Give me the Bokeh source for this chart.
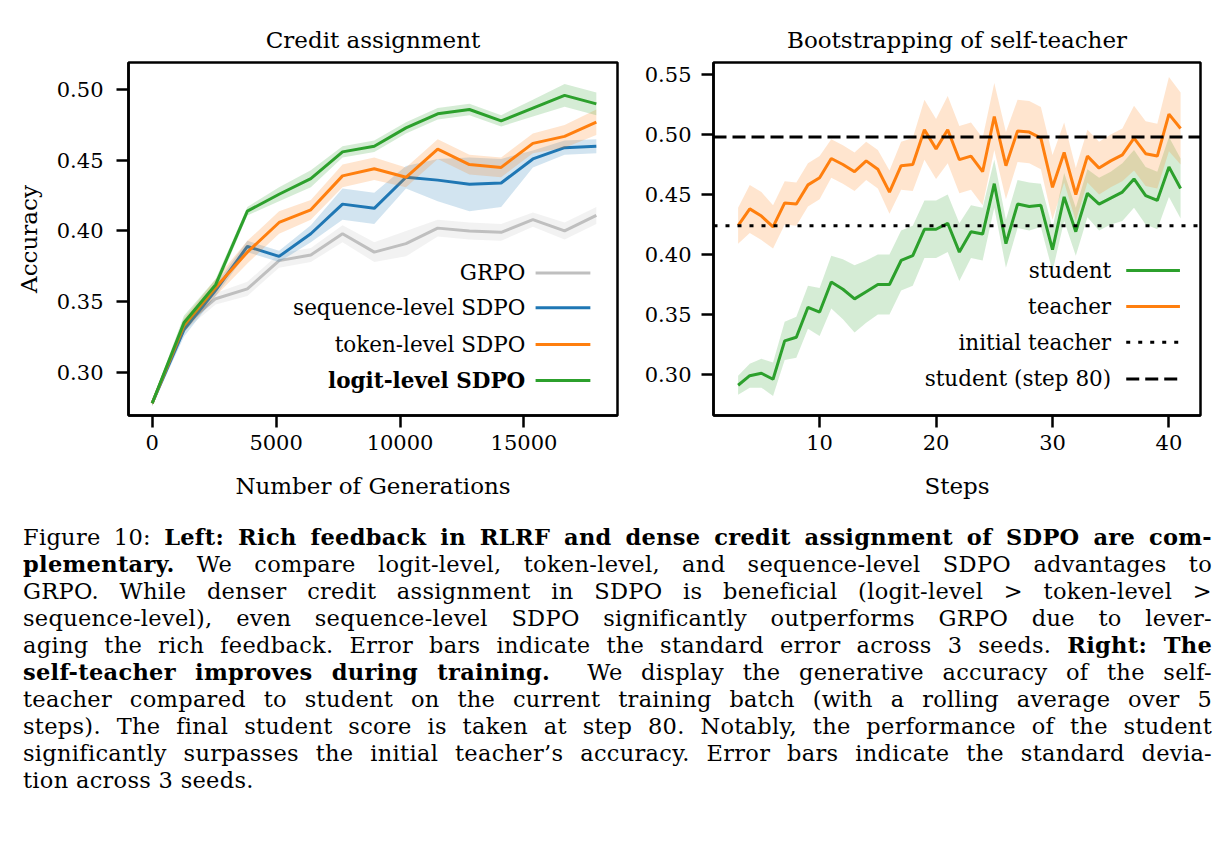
from bokeh.plotting import figure
from bokeh.layouts import column, row
from bokeh.models import Range1d, FixedTicker, NumeralTickFormatter, Span, Div
from bokeh.core.properties import value
from bokeh.embed import file_html
from bokeh.resources import INLINE

FONT = "DejaVu Serif"

# ---- Left panel: credit assignment (mean and standard error over 3 seeds)
generations = [0, 1280, 2560, 3840, 5120, 6400, 7680, 8960, 10240, 11520, 12800, 14080, 15360, 16640, 17920]
grpo_mean = [0.278, 0.333, 0.352, 0.359, 0.379, 0.383, 0.398, 0.385, 0.391, 0.402, 0.400, 0.399, 0.408, 0.400, 0.411]
grpo_err = [0.002, 0.004, 0.004, 0.005, 0.005, 0.005, 0.006, 0.007, 0.009, 0.006, 0.006, 0.006, 0.005, 0.006, 0.006]
seq_mean = [0.278, 0.330, 0.358, 0.389, 0.382, 0.398, 0.419, 0.416, 0.438, 0.436, 0.433, 0.434, 0.451, 0.459, 0.460]
seq_err = [0.002, 0.005, 0.004, 0.004, 0.004, 0.006, 0.011, 0.011, 0.008, 0.015, 0.019, 0.017, 0.006, 0.005, 0.005]
token_mean = [0.278, 0.333, 0.360, 0.385, 0.406, 0.415, 0.439, 0.444, 0.438, 0.458, 0.447, 0.445, 0.462, 0.467, 0.477]
token_err = [0.002, 0.005, 0.006, 0.008, 0.008, 0.007, 0.008, 0.008, 0.007, 0.007, 0.007, 0.007, 0.007, 0.008, 0.009]
logit_mean = [0.278, 0.335, 0.362, 0.414, 0.426, 0.437, 0.456, 0.460, 0.473, 0.483, 0.486, 0.478, 0.487, 0.496, 0.490]
logit_err = [0.002, 0.005, 0.004, 0.003, 0.005, 0.006, 0.004, 0.004, 0.004, 0.004, 0.004, 0.004, 0.006, 0.008, 0.008]

left_series = ["GRPO", "sequence-level SDPO", "token-level SDPO", "logit-level SDPO"]
left_x_ticks = [0, 5000, 10000, 15000]
left_y_ticks = [0.30, 0.35, 0.40, 0.45, 0.50]

# ---- Right panel: bootstrapping of the self-teacher (mean and std over 3 seeds)
steps = [3, 4, 5, 6, 7, 8, 9, 10, 11, 12, 13, 14, 15, 16, 17, 18, 19, 20, 21, 22,
         23, 24, 25, 26, 27, 28, 29, 30, 31, 32, 33, 34, 35, 36, 37, 38, 39, 40, 41]
student_mean = [0.291, 0.299, 0.301, 0.296, 0.328, 0.331, 0.356, 0.352, 0.377, 0.371,
                0.363, 0.369, 0.375, 0.375, 0.395, 0.399, 0.421, 0.421, 0.426, 0.402,
                0.419, 0.417, 0.459, 0.409, 0.442, 0.440, 0.441, 0.404, 0.448, 0.419,
                0.451, 0.442, 0.447, 0.452, 0.463, 0.449, 0.445, 0.473, 0.455]
student_sd = [0.008, 0.010, 0.012, 0.014, 0.016, 0.017, 0.018, 0.020, 0.022, 0.025,
              0.028, 0.026, 0.025, 0.025, 0.025, 0.025, 0.024, 0.024, 0.024, 0.024,
              0.022, 0.022, 0.020, 0.020, 0.020, 0.020, 0.018, 0.018, 0.020, 0.020,
              0.020, 0.022, 0.022, 0.024, 0.024, 0.024, 0.024, 0.025, 0.025]
teacher_mean = [0.424, 0.438, 0.432, 0.423, 0.443, 0.442, 0.458, 0.464, 0.480, 0.475,
                0.469, 0.478, 0.471, 0.452, 0.474, 0.475, 0.504, 0.488, 0.504, 0.479,
                0.482, 0.469, 0.515, 0.474, 0.503, 0.502, 0.497, 0.456, 0.485, 0.450,
                0.482, 0.472, 0.478, 0.483, 0.497, 0.484, 0.482, 0.517, 0.505]
teacher_sd = [0.015, 0.020, 0.020, 0.018, 0.018, 0.018, 0.018, 0.018, 0.016, 0.016,
              0.016, 0.016, 0.016, 0.018, 0.020, 0.022, 0.025, 0.025, 0.028, 0.028,
              0.028, 0.028, 0.028, 0.028, 0.026, 0.026, 0.026, 0.027, 0.025, 0.022,
              0.022, 0.022, 0.022, 0.022, 0.027, 0.027, 0.027, 0.031, 0.030]
initial_teacher = 0.424
student_step80 = 0.498

right_series = ["student", "teacher", "initial teacher", "student (step 80)"]
right_x_ticks = [10, 20, 30, 40]
right_y_ticks = [0.30, 0.35, 0.40, 0.45, 0.50, 0.55]

GREY = "#bfbfbf"
BLUE = "#1f77b4"
ORANGE = "#ff7f0e"
GREEN = "#2ca02c"
DOTTED = "4 8"
DASHED = "13 6"


def lower(m, e):
    return [a - b for a, b in zip(m, e)]


def upper(m, e):
    return [a + b for a, b in zip(m, e)]


def style(p, xticks, yticks, y_standoff):
    p.title.text_font = FONT
    p.title.text_font_size = "23px"
    p.title.text_font_style = "normal"
    p.title.text_color = "black"
    p.title.align = "center"
    p.title.standoff = 19
    p.outline_line_color = "black"
    p.outline_line_width = 2.5
    p.outline_line_alpha = 1.0
    p.xgrid.visible = False
    p.ygrid.visible = False
    for ax in (p.xaxis[0], p.yaxis[0]):
        ax.axis_line_width = 2.5
        ax.axis_line_color = "black"
        ax.major_tick_line_width = 2.5
        ax.major_tick_line_color = "black"
        ax.major_tick_out = 12
        ax.major_tick_in = 0
        ax.minor_tick_line_color = None
        ax.major_label_text_font = FONT
        ax.major_label_text_font_size = "21px"
        ax.major_label_text_color = "black"
        ax.axis_label_text_font = FONT
        ax.axis_label_text_font_size = "23px"
        ax.axis_label_text_font_style = "normal"
        ax.axis_label_text_color = "black"
    p.xaxis[0].ticker = FixedTicker(ticks=xticks)
    p.yaxis[0].ticker = FixedTicker(ticks=yticks)
    p.yaxis[0].formatter = NumeralTickFormatter(format="0.00")
    p.xaxis[0].major_label_standoff = 7
    p.yaxis[0].major_label_standoff = y_standoff
    p.xaxis[0].axis_label_standoff = 20
    p.yaxis[0].axis_label_standoff = 12


def legend_rows(p, labels, colors, dashes, fx_text, fx_h0, fx_h1, fys, bold_last=False):
    """Right-aligned legend labels with the line sample placed after the text."""
    xr, yr = p.x_range, p.y_range
    X = lambda f: xr.start + f * (xr.end - xr.start)
    Y = lambda f: yr.start + f * (yr.end - yr.start)
    for i, (lab, col, dash, fy) in enumerate(zip(labels, colors, dashes, fys)):
        bold = bold_last and i == len(labels) - 1
        p.text(x=[X(fx_text)], y=[Y(fy)], text=[lab], text_font=value(FONT),
               text_font_size=value("21.5px"), text_align="right", text_baseline="middle",
               text_color="black", text_font_style="bold" if bold else "normal")
        p.line(x=[X(fx_h0), X(fx_h1)], y=[Y(fy), Y(fy)], line_color=col,
               line_width=3, line_dash=dash)


# ---------------- left figure
p1 = figure(width=641, height=510, output_backend="svg", toolbar_location=None,
            title="Credit assignment",
            x_range=Range1d(-956, 18774), y_range=Range1d(0.2693, 0.5193),
            min_border_left=128, min_border_right=24, min_border_top=62, min_border_bottom=95,
            x_axis_label="Number of Generations", y_axis_label="Accuracy")
style(p1, left_x_ticks, left_y_ticks, 13)

for mean, err, col in [(grpo_mean, grpo_err, GREY), (seq_mean, seq_err, BLUE),
                       (token_mean, token_err, ORANGE), (logit_mean, logit_err, GREEN)]:
    p1.varea(x=generations, y1=lower(mean, err), y2=upper(mean, err),
             fill_color=col, fill_alpha=0.2)
    p1.line(x=generations, y=mean, line_color=col, line_width=3)

legend_rows(p1, left_series, [GREY, BLUE, ORANGE, GREEN], ["solid"] * 4,
            0.8115, 0.8325, 0.9445, [0.4040, 0.3052, 0.2012, 0.0992], bold_last=True)

# ---------------- right figure
p2 = figure(width=584, height=510, output_backend="svg", toolbar_location=None,
            title="Bootstrapping of self-teacher",
            x_range=Range1d(0.886, 42.71), y_range=Range1d(0.2658, 0.56),
            min_border_left=71, min_border_right=25, min_border_top=62, min_border_bottom=95,
            x_axis_label="Steps")
style(p2, right_x_ticks, right_y_ticks, 10)

p2.varea(x=steps, y1=lower(student_mean, student_sd), y2=upper(student_mean, student_sd),
         fill_color=GREEN, fill_alpha=0.2)
p2.line(x=steps, y=student_mean, line_color=GREEN, line_width=3)
p2.varea(x=steps, y1=lower(teacher_mean, teacher_sd), y2=upper(teacher_mean, teacher_sd),
         fill_color=ORANGE, fill_alpha=0.2)
p2.line(x=steps, y=teacher_mean, line_color=ORANGE, line_width=3)

p2.add_layout(Span(location=initial_teacher, dimension="width", line_color="black",
                   line_width=3, line_dash=DOTTED))
p2.add_layout(Span(location=student_step80, dimension="width", line_color="black",
                   line_width=3, line_dash=DASHED))

legend_rows(p2, right_series, [GREEN, ORANGE, "black", "black"],
            ["solid", "solid", DOTTED, DASHED],
            0.8165, 0.8475, 0.9578, [0.4108, 0.3089, 0.2076, 0.1036])

# ---------------- caption
caption_lines = [
    'Figure 10: <b>Left: Rich feedback in RLRF and dense credit assignment of SDPO are com-</b>',
    '<b>plementary.</b> We compare logit-level, token-level, and sequence-level SDPO advantages to',
    'GRPO. While denser credit assignment in SDPO is beneficial (logit-level &gt; token-level &gt;',
    'sequence-level), even sequence-level SDPO significantly outperforms GRPO due to lever-',
    'aging the rich feedback. Error bars indicate the standard error across 3 seeds. <b>Right: The</b>',
    '<b>self-teacher improves during training.</b>&nbsp; We display the generative accuracy of the self-',
    'teacher compared to student on the current training batch (with a rolling average over 5',
    'steps). The final student score is taken at step 80. Notably, the performance of the student',
    'significantly surpasses the initial teacher\u2019s accuracy. Error bars indicate the standard devia-',
    'tion across 3 seeds.',
]
rows_html = []
for i, line in enumerate(caption_lines):
    last = i == len(caption_lines) - 1
    align = "text-align:left;" if last else "text-align:justify;text-align-last:justify;"
    rows_html.append(f'<div style="width:1189px;white-space:nowrap;{align}">{line}</div>')
caption_html = (
    f'<div style="width:1189px;margin:9px 18px 0 18px;font-family:\'{FONT}\';font-size:22.5px;'
    f'letter-spacing:0.3px;line-height:27px;color:black;">' + "".join(rows_html) + "</div>"
)
caption = Div(text=caption_html, width=1225, height=355)

layout = column(row(p1, p2), caption)
open("out.html", "w").write(file_html(layout, INLINE))
